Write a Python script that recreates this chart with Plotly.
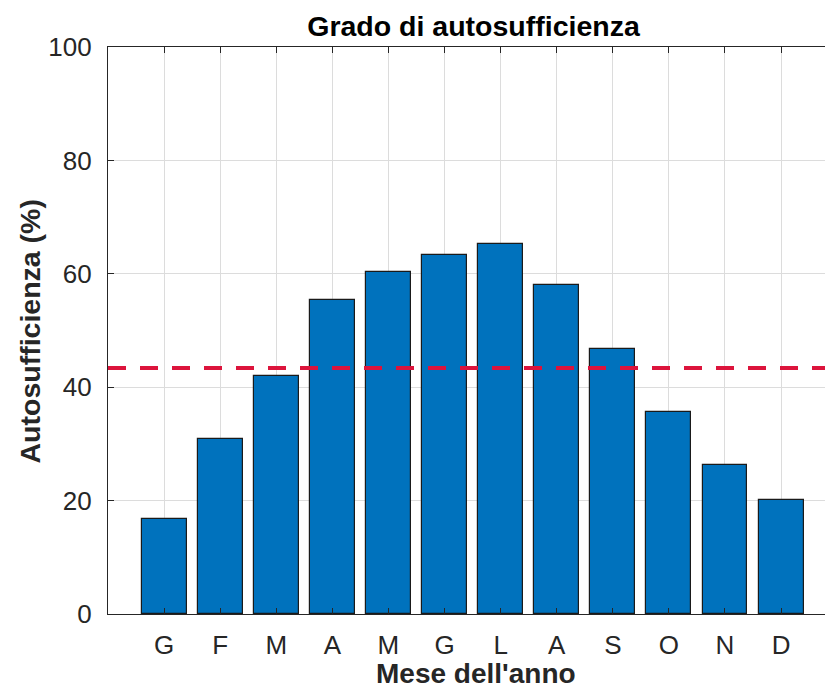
import plotly.graph_objects as go

# Monthly self-sufficiency (%)
months = ["G", "F", "M", "A", "M", "G", "L", "A", "S", "O", "N", "D"]
autosufficienza = [16.8, 30.8, 41.9, 55.4, 60.3, 63.4, 65.3, 58.0, 46.7, 35.7, 26.2, 20.1]
y_ticks = [0, 20, 40, 60, 80, 100]

positions = list(range(1, len(months) + 1))
media = sum(autosufficienza) / len(autosufficienza)

AX_COLOR = "#262626"
GRID_COLOR = "#dcdcdc"
FONT = "Liberation Sans, Arial, Helvetica, sans-serif"

fig = go.Figure()

fig.add_trace(go.Bar(
    x=positions,
    y=autosufficienza,
    width=0.8,
    marker=dict(color="#0072BD", line=dict(color="#1a1a1a", width=1.2)),
    showlegend=False,
))

# Yearly mean as dashed reference line
fig.add_shape(
    type="line", xref="paper", yref="y",
    x0=0, x1=1, y0=media, y1=media,
    line=dict(color="#DC143C", width=4, dash="18px,14px"),
    layer="above",
)

W, H = 825, 692
L, R, T, B = 108, 0, 47, 78
plot_w = W - L - R
plot_h = H - T - B
spacing = 56.09
x_max = plot_w / spacing

fig.update_layout(
    width=W, height=H,
    margin=dict(l=L, r=R, t=T, b=B),
    paper_bgcolor="white",
    plot_bgcolor="white",
    font=dict(family=FONT, color=AX_COLOR),
    bargap=0,
    title=dict(
        text="<b>Grado di autosufficienza</b>",
        font=dict(size=28.5, color="black", family=FONT),
        xref="container", x=473.5 / W, xanchor="center",
        yref="container", y=1 - 26 / H, yanchor="middle",
    ),
)

# Axis titles centred on the full (13-slot) axes box
fig.add_annotation(
    text="<b>Mese dell'anno</b>",
    xref="paper", yref="paper",
    x=(476 - L) / plot_w, y=-(673 - (T + plot_h)) / plot_h,
    xanchor="center", yanchor="middle",
    showarrow=False,
    font=dict(size=28, color=AX_COLOR, family=FONT),
)
fig.add_annotation(
    text="<b>Autosufficienza (%)</b>",
    xref="paper", yref="paper",
    x=-(L - 30) / plot_w, y=0.5 - 1 / plot_h,
    xanchor="center", yanchor="middle",
    textangle=-90,
    showarrow=False,
    font=dict(size=28.5, color=AX_COLOR, family=FONT),
)

fig.update_xaxes(
    range=[0, x_max],
    tickmode="array",
    tickvals=positions,
    ticktext=months,
    tickfont=dict(size=26, color=AX_COLOR),
    ticks="inside", ticklen=6, tickcolor=AX_COLOR, tickwidth=1,
    ticklabelstandoff=8,
    showline=True, linecolor=AX_COLOR, linewidth=1.2,
    mirror="ticks",
    showgrid=True, gridcolor=GRID_COLOR, gridwidth=1,
    zeroline=False,
)

fig.update_yaxes(
    range=[0, 100],
    tickmode="array",
    tickvals=y_ticks,
    tickfont=dict(size=26, color=AX_COLOR),
    ticks="inside", ticklen=6, tickcolor=AX_COLOR, tickwidth=1,
    ticklabelstandoff=10,
    showline=True, linecolor=AX_COLOR, linewidth=1.2,
    mirror=False,
    showgrid=True, gridcolor=GRID_COLOR, gridwidth=1,
    zeroline=False,
)

fig.write_html("out.html")
